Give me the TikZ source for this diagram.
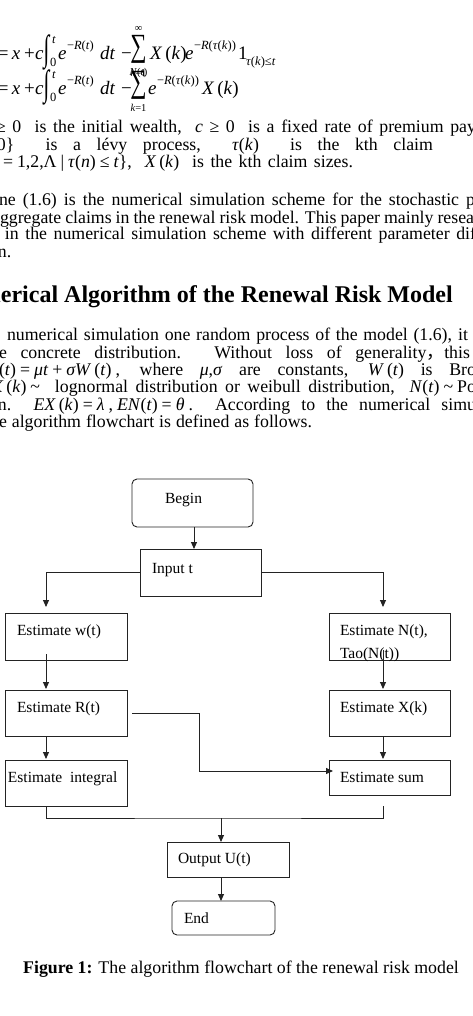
\documentclass[tikz,border=0pt]{standalone}
\usepackage{fontspec}
\setmainfont{Liberation Serif}
\newfontfamily\cjk{Noto Sans CJK SC}
\usepackage{graphicx}
\usetikzlibrary{arrows.meta}
\definecolor{linec}{RGB}{35,35,35}
\newcommand{\bodyfs}{\fontsize{17.8}{18}\selectfont}
\newcommand{\capfs}{\fontsize{17.8}{18}\selectfont}
\newcommand{\mfs}{\fontsize{19}{19}\selectfont}
\newcommand{\headfs}{\fontsize{24}{24}\selectfont\bfseries}
\newcommand{\boxfs}{\fontsize{15.5}{16}\selectfont}
\newcommand{\supfs}{\fontsize{12.5}{12}\selectfont}
\newcommand{\limfs}{\fontsize{10.5}{10}\selectfont}
\newcommand{\mi}[1]{\textit{#1}}
\newcommand{\jl}[2]{\makebox[#1][s]{#2}}
\newcommand{\fs}{\hspace{4pt}}
\begin{document}
\begin{tikzpicture}[x=1pt,y=-1pt,
 txt/.style={anchor=base west, inner sep=0pt, outer sep=0pt, font=\bodyfs},
 mtxt/.style={anchor=base west, inner sep=0pt, outer sep=0pt, font=\mfs},
 big/.style={anchor=center, inner sep=0pt, outer sep=0pt, font=\mfs},
 sup/.style={anchor=base west, inner sep=0pt, outer sep=0pt, font=\supfs},
 lim/.style={anchor=base, inner sep=0pt, outer sep=0pt, font=\limfs},
 btxt/.style={anchor=base west, inner sep=0pt, outer sep=0pt, font=\boxfs},
 fbox/.style={draw=linec, line width=0.9pt, anchor=north west, inner sep=0pt, outer sep=0pt},
 rbox/.style={fbox, rounded corners=5pt},
 arr/.style={draw=linec, line width=0.9pt, -{Triangle[width=6pt,length=7pt]}},
 ln/.style={draw=linec, line width=0.9pt}]
\useasboundingbox (0,0) rectangle (472,1016);
\fill[white] (0,0) rectangle (472,1016);
\clip (0,0) rectangle (472,1016);

% ---------- formula line 1 ----------
\node[mtxt] (a1) at (-2,60) {=};
\node[mtxt] (a2) at (12,60) {\mi{x}};
\node[mtxt] (a3) at (24,60) {+};
\node[mtxt] (a4) at (35,60) {\mi{c}};
\node[big] (a5) at (47,52) {\scalebox{1.1}[1.9]{\mi{∫}}};
\node[sup] (a6) at (52,44) {\mi{t}};
\node[sup] (a7) at (50,67) {0};
\node[mtxt] (a8) at (58,60) {\mi{e}};
\node[sup] (a9) at (67,50) {−\mi{R}(\mi{t})};
\node[mtxt] (a10) at (100,60) {\mi{dt}};
\node[mtxt] (a11) at (121,60) {−};
\node[big] (a12) at (138.5,49) {\scalebox{1.2}[1.7]{∑}};
\node[lim] (a13) at (138.5,32) {∞};
\node[lim] (a14) at (138.5,77) {\mi{k}=1};
\node[mtxt] (a15) at (150,60) {\mi{X}\,(\mi{k})};
\node[mtxt] (a16) at (185,60) {\mi{e}};
\node[sup] (a17) at (194,50) {−\mi{R}(\mi{τ}(\mi{k}))};
\node[mtxt] (a18) at (238,60) {1};
\node[sup] (a19) at (246,66) {\mi{τ}(\mi{k})≤\mi{t}};
% ---------- formula line 2 ----------
\node[mtxt] (b1) at (-2,95) {=};
\node[mtxt] (b2) at (12,95) {\mi{x}};
\node[mtxt] (b3) at (24,95) {+};
\node[mtxt] (b4) at (35,95) {\mi{c}};
\node[big] (b5) at (47,87) {\scalebox{1.1}[1.9]{\mi{∫}}};
\node[sup] (b6) at (52,79) {\mi{t}};
\node[sup] (b7) at (50,102) {0};
\node[mtxt] (b8) at (58,95) {\mi{e}};
\node[sup] (b9) at (67,85) {−\mi{R}(\mi{t})};
\node[mtxt] (b10) at (100,95) {\mi{dt}};
\node[mtxt] (b11) at (121,95) {−};
\node[big] (b12) at (138.5,85) {\scalebox{1.2}[1.7]{∑}};
\node[lim] (b13) at (138.5,76) {\mi{N}(\mi{t})};
\node[lim] (b14) at (138.5,112) {\mi{k}=1};
\node[mtxt] (b15) at (148,95) {\mi{e}};
\node[sup] (b16) at (157,85) {−\mi{R}(\mi{τ}(\mi{k}))};
\node[mtxt] (b17) at (202,95) {\mi{X}\,(\mi{k})};

% ---------- body text ----------
\node[txt] (l1) at (-4,133) {\jl{480pt}{≥ 0\ \ is the initial wealth,\ \ \mi{c} ≥ 0\ \ is a fixed rate of premium pay}};
\node[txt] (l2) at (-3,151) {\jl{436pt}{0\}\ \ is a lévy process,\ \ \mi{τ}(\mi{k})\ \ is the kth claim}};
\node[txt] (l3) at (3,168) {\jl{350pt}{=\fs1,2,Λ\fs|\fs\mi{τ}(\mi{n})\fs≤\fs\mi{t}\},\ \ \mi{X}\,(\mi{k})\ \ is the kth claim sizes.}};
\node[txt] (l4) at (-1,206) {\jl{476pt}{ne (1.6) is the numerical simulation scheme for the stochastic p}};
\node[txt] (l5) at (0,223) {\jl{474pt}{ggregate claims in the renewal risk model. This paper mainly resea}};
\node[txt] (l6) at (5,240) {\jl{471pt}{in the numerical simulation scheme with different parameter dif}};
\node[txt] (l7) at (-2,258) {n.};
\node[anchor=base east, inner sep=0pt, font=\headfs] (hd) at (453,302) {Numerical Algorithm of the Renewal Risk Model};
\node[txt] (l8) at (7,340) {\jl{461pt}{numerical simulation one random process of the model (1.6), it}};
\node[txt] (l9) at (-1,358) {\jl{471pt}{e concrete distribution. Without loss of generality{\cjk ，}this}};
\node[txt] (l10) at (-1,375) {\jl{477pt}{(\mi{t})\fs=\fs\mi{μt}\fs+\fs\mi{σW}\,(\mi{t})\fs, where \mi{μ},\mi{σ} are constants, \mi{W}\,(\mi{t}) is Bro}};
\node[txt] (l11) at (-8,392) {\jl{484pt}{\mi{X}\,(\mi{k})\fs\textasciitilde\ \ lognormal distribution or weibull distribution,\ \ \mi{N}(\mi{t})\fs\textasciitilde\fs Po}};
\node[txt] (l12) at (-2,410) {\jl{478pt}{n.\ \ \mi{EX}\,(\mi{k})\fs=\fs\mi{λ}\fs,\fs\mi{EN}(\mi{t})\fs=\fs\mi{θ}\fs.\ \ According to the numerical simu}};
\node[txt] (l13) at (-1,427) {\jl{313pt}{e algorithm flowchart is defined as follows.}};

% ---------- flowchart ----------
\node[rbox, minimum width=121pt, minimum height=48pt] (begin) at (132,479) {};
\node[btxt] (tbegin) at (165,503) {Begin};
\node[fbox, minimum width=121pt, minimum height=47pt] (input) at (140,549) {};
\node[btxt] (tinput) at (152,573) {Input t};
\node[fbox, minimum width=122pt, minimum height=47pt] (w) at (5,613) {};
\node[btxt] (tw) at (17,635) {Estimate w(t)};
\node[fbox, minimum width=121pt, minimum height=47pt] (n) at (329,613) {};
\node[btxt] (tn1) at (340,635) {Estimate N(t),};
\node[btxt] (tn2) at (340,658) {Tao(N(t))};
\node[fbox, minimum width=122pt, minimum height=46pt] (r) at (5,690) {};
\node[btxt] (tr) at (17,712) {Estimate R(t)};
\node[fbox, minimum width=121pt, minimum height=46pt] (xk) at (329,690) {};
\node[btxt] (txk) at (340,712) {Estimate X(k)};
\node[fbox, minimum width=122pt, minimum height=46pt] (ig) at (5,760) {};
\node[btxt] (tig) at (8,782) {Estimate\ \ integral};
\node[fbox, minimum width=121pt, minimum height=35pt] (sm) at (329,760) {};
\node[btxt] (tsm) at (340,782) {Estimate sum};
\node[fbox, minimum width=122pt, minimum height=35pt] (out) at (167,842) {};
\node[btxt] (tout) at (178,863) {Output U(t)};
\node[rbox, minimum width=103pt, minimum height=34pt] (end) at (172,901) {};
\node[btxt] (tend) at (184,923) {End};

\coordinate (wIn) at (46,607);
\coordinate (nIn) at (383,607);
\coordinate (join) at (221,818);

\draw[arr] ([xshift=1.5pt]begin.south) -- ([xshift=1.5pt]begin.south |- input.north);
\draw[arr] (input.west) -| (wIn);
\draw[arr] (input.east) -| (nIn);
\draw[arr] ([xshift=-20pt,yshift=6pt]w.south) -- ([xshift=-20pt,yshift=1pt]r.north);
\draw[arr] ([xshift=-6.5pt,yshift=10pt]n.south) -- ([xshift=-6.5pt,yshift=1pt]xk.north);
\draw[arr] ([xshift=-20pt]r.south) -- ([xshift=-20pt,yshift=1pt]ig.north);
\draw[arr] ([xshift=-6.5pt]xk.south) -- ([xshift=-6.5pt,yshift=1pt]sm.north);
\draw[arr] ([xshift=5pt]r.east) -- ++(67,0) |- ([xshift=4pt,yshift=6.5pt]sm.west);
\draw[ln] ([xshift=-20pt]ig.south) |- (join) -| ([xshift=-6.5pt,yshift=-11pt]sm.south);
\draw[arr] (join) -- (join |- out.north);
\draw[arr] ([xshift=-7pt]out.south) -- ([xshift=-7pt]out.south |- end.north);

% ---------- caption ----------
\node[anchor=base, inner sep=0pt, font=\capfs] (cap) at (241,973) {\textbf{Figure 1:} The algorithm flowchart of the renewal risk model};
\end{tikzpicture}
\end{document}
